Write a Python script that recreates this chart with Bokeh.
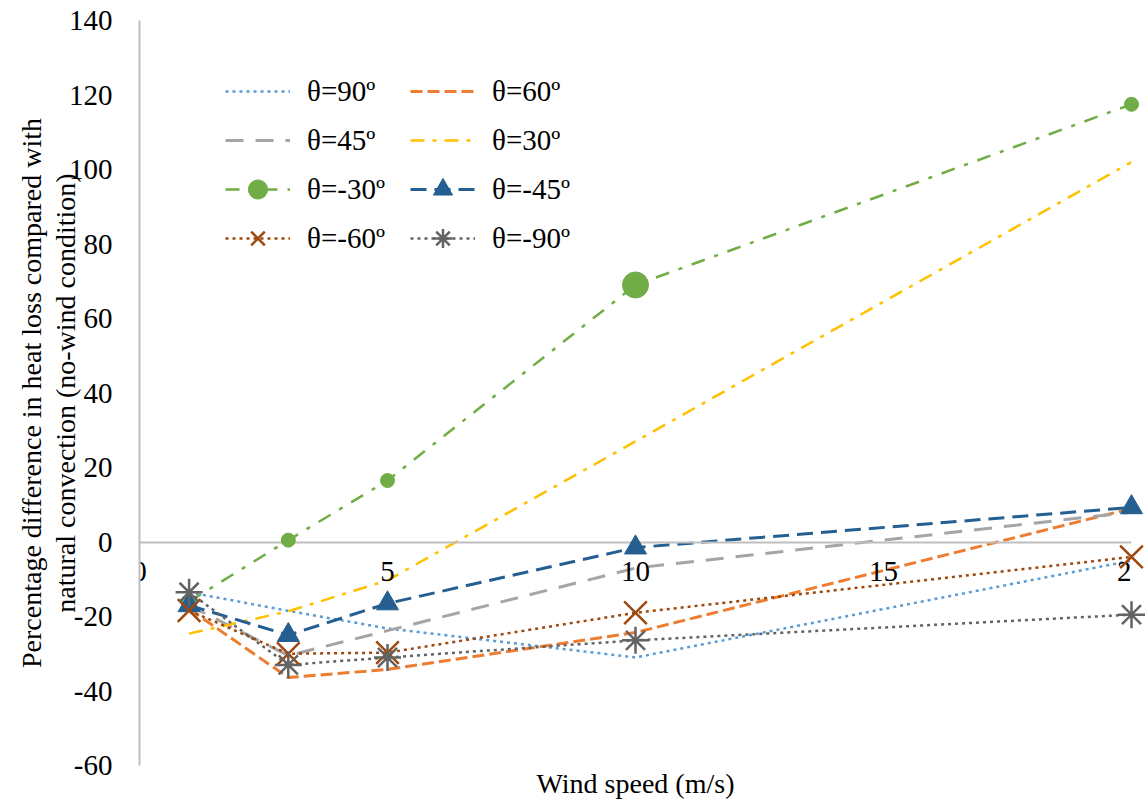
from bokeh.plotting import figure
from bokeh.models import (LinearAxis, FixedTicker, Range1d, Legend, LegendItem,
                          ColumnDataSource, CustomJSTickFormatter, Title)
from bokeh.embed import file_html
from bokeh.resources import INLINE

# ---- data ----
wind_speed = [1, 3, 5, 10, 20]
theta_p90 = [-13.5, -18.5, -23.2, -31.0, -5.0]
theta_p60 = [-18.0, -36.4, -34.2, -24.3, 9.0]
theta_p45 = [-17.0, -30.5, -23.8, -7.0, 8.0]
theta_p30 = [-24.6, -18.6, -10.3, 27.0, 102.0]
theta_m30 = [-16.0, 0.5, 16.5, 69.0, 117.5]
theta_m45 = [-17.0, -25.0, -16.5, -1.5, 9.3]
theta_m60 = [-18.4, -30.0, -29.7, -19.0, -4.0]
theta_m90 = [-13.5, -33.0, -31.0, -26.4, -19.5]

series_labels = ["θ=90º", "θ=60º", "θ=45º", "θ=30º",
                 "θ=-30º", "θ=-45º", "θ=-60º", "θ=-90º"]
x_ticks = [0, 5, 10, 15, 20]
y_ticks = [-60, -40, -20, 0, 20, 40, 60, 80, 100, 120, 140]
y_title_line1 = "Percentage difference in heat loss compared with"
y_title_line2 = "natural convection (no-wind condition)"
x_title = "Wind speed (m/s)"

FONT = "Liberation Serif"

p = figure(width=1148, height=805, output_backend="svg", toolbar_location=None,
           x_range=Range1d(0, 20), y_range=Range1d(-60, 140),
           x_axis_location=None,
           min_border_left=139, min_border_right=17, min_border_top=20,
           min_border_bottom=40)
p.outline_line_color = None
p.grid.grid_line_color = None
p.background_fill_color = "white"

plain = CustomJSTickFormatter(code="return String(tick)")

# y axis
yax = p.yaxis[0]
yax.ticker = FixedTicker(ticks=y_ticks)
yax.formatter = plain
yax.axis_line_color = "#bfbfbf"
yax.axis_line_width = 2
yax.major_tick_line_color = None
yax.minor_tick_line_color = None
yax.major_tick_out = 0
yax.major_tick_in = 0
yax.minor_tick_out = 0
yax.minor_tick_in = 0
yax.major_label_standoff = 27
yax.major_label_text_font = FONT
yax.major_label_text_font_size = "29px"
yax.major_label_text_color = "black"
yax.axis_label = y_title_line2
yax.axis_label_text_font = FONT
yax.axis_label_text_font_size = "28px"
yax.axis_label_text_font_style = "normal"
yax.axis_label_text_color = "black"
yax.axis_label_standoff = -15

p.add_layout(Title(text=y_title_line1, align="center", text_font=FONT,
                   text_font_size="28px", text_font_style="normal",
                   text_color="black", standoff=0), "left")

# x axis crossing at y = 0
xax = LinearAxis(fixed_location=0, ticker=FixedTicker(ticks=x_ticks), formatter=plain)
xax.axis_line_color = "#bfbfbf"
xax.axis_line_width = 2
xax.major_tick_line_color = None
xax.minor_tick_line_color = None
xax.major_tick_out = 0
xax.major_tick_in = 0
xax.minor_tick_out = 0
xax.minor_tick_in = 0
xax.major_label_standoff = 20
xax.major_label_text_font = FONT
xax.major_label_text_font_size = "29px"
xax.major_label_text_color = "black"
p.add_layout(xax, "below")

p.add_layout(Title(text=x_title, align="center", text_font=FONT,
                   text_font_size="28px", text_font_style="normal",
                   text_color="black", standoff=0), "below")

styles = [
    dict(color="#5B9BD5", dash="3 4", width=2.5, marker=None),
    dict(color="#ED7D31", dash="12 5", width=3, marker=None),
    dict(color="#A5A5A5", dash="18 12", width=3, marker=None),
    dict(color="#FFC000", dash="14 8 4 8", width=2.5, marker=None),
    dict(color="#70AD47", dash="14 10 4 10", width=2.5, marker="circle"),
    dict(color="#255E91", dash="16 8", width=3, marker="triangle"),
    dict(color="#9E480E", dash="3 4", width=2.5, marker="x"),
    dict(color="#636363", dash="3 4", width=2.5, marker="asterisk"),
]
series_values = [theta_p90, theta_p60, theta_p45, theta_p30,
                 theta_m30, theta_m45, theta_m60, theta_m90]
green_sizes = [14, 14, 14, 26, 14]

items = []
for label, vals, st in zip(series_labels, series_values, styles):
    src = ColumnDataSource(dict(x=wind_speed, y=vals))
    rends = []
    ln = p.line("x", "y", source=src, line_color=st["color"], line_width=st["width"],
                line_dash=st["dash"])
    rends.append(ln)
    m = st["marker"]
    if m == "circle":
        src.data["s"] = green_sizes
        sc = p.scatter("x", "y", source=src, marker="circle", size="s",
                       fill_color=st["color"], line_color=st["color"], level="overlay")
        rends.append(sc)
    elif m == "triangle":
        sc = p.scatter("x", "y", source=src, marker="triangle", size=22,
                       fill_color=st["color"], line_color=st["color"], level="overlay")
        rends.append(sc)
    elif m == "x":
        sc = p.scatter("x", "y", source=src, marker="x", size=32,
                       line_color=st["color"], line_width=2.5, level="overlay")
        rends.append(sc)
    elif m == "asterisk":
        sc = p.scatter("x", "y", source=src, marker="asterisk", size=27,
                       line_color=st["color"], line_width=2.5, level="overlay")
        rends.append(sc)
    items.append(LegendItem(label=label, renderers=rends))

legend = Legend(items=items, location=(86, 503), orientation="horizontal", ncols=2,
                glyph_width=65, glyph_height=48, label_height=48, label_width=102,
                label_standoff=17, spacing=1, padding=10,
                background_fill_alpha=0, border_line_color=None,
                label_text_font=FONT, label_text_font_size="29px",
                label_text_color="black")
p.add_layout(legend)

open("out.html", "w").write(file_html(p, INLINE))
